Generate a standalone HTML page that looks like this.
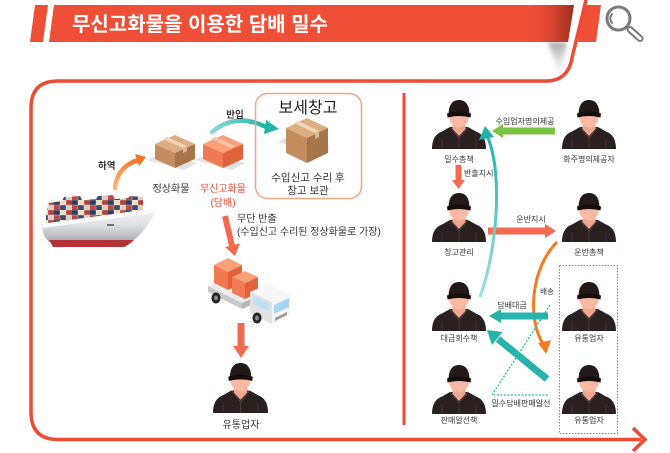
<!DOCTYPE html>
<html lang="ko">
<head>
<meta charset="utf-8">
<style>
  html,body{margin:0;padding:0;background:#fff;}
  body{width:670px;height:453px;overflow:hidden;}
  svg{display:block;}
  text{font-family:"Liberation Sans","Noto Sans CJK KR",sans-serif;fill:#333;}
</style>
</head>
<body>
<svg width="670" height="453" viewBox="0 0 670 453" xmlns="http://www.w3.org/2000/svg">
  <defs>
    <linearGradient id="barShade" x1="0" y1="0" x2="1" y2="0">
      <stop offset="0" stop-color="#ef4e37" stop-opacity="0"/>
      <stop offset="1" stop-color="#7a2216" stop-opacity="0.75"/>
    </linearGradient>
    <linearGradient id="dropShade" x1="0" y1="0" x2="0" y2="1">
      <stop offset="0" stop-color="#666" stop-opacity="0.55"/>
      <stop offset="1" stop-color="#999" stop-opacity="0"/>
    </linearGradient>
    <filter id="blur2"><feGaussianBlur stdDeviation="2"/></filter>
    <linearGradient id="hull" x1="0" y1="0" x2="0" y2="1">
      <stop offset="0" stop-color="#f4f4f6"/>
      <stop offset="0.45" stop-color="#e2e3e6"/>
      <stop offset="1" stop-color="#a9abb1"/>
    </linearGradient>
    <linearGradient id="tealG" x1="0" y1="0" x2="1" y2="0">
      <stop offset="0" stop-color="#8fd9d4"/>
      <stop offset="1" stop-color="#1fb3ab"/>
    </linearGradient>
    <linearGradient id="orangeG" x1="0" y1="1" x2="1" y2="0">
      <stop offset="0" stop-color="#fbb57a"/>
      <stop offset="1" stop-color="#f37420"/>
    </linearGradient>
    <linearGradient id="tealV" x1="0" y1="1" x2="0" y2="0">
      <stop offset="0" stop-color="#9fe0dc"/>
      <stop offset="1" stop-color="#1fb3ab"/>
    </linearGradient>
    <pattern id="cont" width="18" height="10" patternUnits="userSpaceOnUse">
      <rect x="0" y="0" width="6" height="5" fill="#2f3b5e"/>
      <rect x="6" y="0" width="6" height="5" fill="#eadcc0"/>
      <rect x="12" y="0" width="6" height="5" fill="#b3403a"/>
      <rect x="0" y="5" width="6" height="5" fill="#c0473f"/>
      <rect x="6" y="5" width="6" height="5" fill="#3b4a70"/>
      <rect x="12" y="5" width="6" height="5" fill="#d9cfc3"/>
      <path d="M0,0 H18 M0,5 H18 M6,0 V10 M12,0 V10" stroke="#fff" stroke-width="0.5" opacity="0.6"/>
    </pattern>
    <g id="p">
      <path d="M0,49 C0,40 3,34 10,31.5 L18,27 L36,27 L44,31.5 C51,34 54,40 54,49 Z" fill="#2a201f"/>
      <path d="M20.5,21 L20.5,29 L27,36 L33.5,29 L33.5,21 Z" fill="#efa78f"/>
      <ellipse cx="27" cy="16" rx="10" ry="11.5" fill="#f7b9a2"/>
      <path d="M16.5,15 C16.5,4 21,0 27,0 C33,0 37.5,4 37.5,15 Z" fill="#231a18"/>
      <path d="M15,13.5 Q27,9.5 39,13.5 L38.5,17.5 Q27,14.5 15.5,17.5 Z" fill="#130d0c"/>
      <path d="M18,27 L27,38 L36,27" fill="none" stroke="#4d403d" stroke-width="1"/>
      <line x1="27" y1="38" x2="27" y2="49" stroke="#4d403d" stroke-width="0.8"/>
      <path d="M10,39 L10,49 M44,39 L44,49" stroke="#453835" stroke-width="0.8"/>
    </g>
  </defs>

  <!-- ===== Title bar ===== -->
  <polygon points="35,5 48,5 43,42 30,42" fill="#ef4e37"/>
  <polygon points="54,5 574,5 568,42 49,42" fill="#ef4e37"/>
  <polygon points="530,5 574,5 568,42 526,42" fill="url(#barShade)"/>
  <polygon points="548,42 567,42 560,76" fill="url(#dropShade)" filter="url(#blur2)"/>
  <text x="72" y="31" font-size="20" font-weight="bold" style="fill:#fff">무신고화물을 이용한 담배 밀수</text>
  <polygon points="583,5 601,5 596,42 578,42" fill="#ef4e37"/>

  <!-- search icon -->
  <circle cx="618.5" cy="18.5" r="11.5" fill="none" stroke="#7a7a7a" stroke-width="3"/>
  <path d="M612,14 A7,7 0 0 0 612,23" fill="none" stroke="#7a7a7a" stroke-width="2" stroke-linecap="round"/>
  <line x1="630" y1="29.5" x2="640" y2="38.5" stroke="#7a7a7a" stroke-width="7" stroke-linecap="round"/>
  <line x1="630" y1="29.5" x2="640" y2="38.5" stroke="#fff" stroke-width="3" stroke-linecap="round"/>

  <!-- ===== Frame ===== -->
  <path d="M586,0 L572,58 Q568,81 546,81 L58,81 Q31,81 31,108 L31,412 Q31,439.5 58,439.5 L641,439.5"
        fill="none" stroke="#ef4a34" stroke-width="3.5"/>
  <polyline points="633,428 645,439.5 633,451" fill="none" stroke="#ef4a34" stroke-width="3.5" stroke-linejoin="miter"/>
  <line x1="404" y1="93" x2="404" y2="425" stroke="#ef4a34" stroke-width="3"/>

  <!-- ===== Left panel ===== -->
  <!-- Ship -->
  <polygon points="46,214 49,203 62,201 64,197 80,196 82,200 96,199 98,196 113,195 115,199 128,198 130,196 143,197 143,213 46,226" fill="url(#cont)"/>
  <path d="M41,224 L150,209 L156,209 Q150,226 133,241 L49,242 L44,236 Z" fill="url(#hull)"/>
  <path d="M41,224 L150,209 L156,209 L154,213 L43,228 Z" fill="#fafafa"/>
  <path d="M49,240 L134,240 Q129,245 124,247 L53,247 Z" fill="#b3323a"/>
  <rect x="107" y="224" width="7" height="2" fill="#6b6f78"/>

  <!-- 하역 arrow -->
  <path d="M115,188 Q117,167 138,160" fill="none" stroke="url(#orangeG)" stroke-width="4.5" stroke-linecap="round"/>
  <polygon points="146,157 135,154 139,166" fill="#f37420"/>
  <text x="98" y="169" font-size="9.5" font-weight="bold">하역</text>

  <!-- box shadows -->
  <polygon points="147,160 160,154 197,163 184,170" fill="#e2e2e2"/>
  <polygon points="195,160 208,154 245,163 232,170" fill="#e2e2e2"/>
  <polygon points="278,142 290,136 330,148 318,155" fill="#e2e2e2"/>

  <!-- 정상화물 box -->
  <polygon points="175,135 195,144 175,153 155,144" fill="#dcae82"/>
  <polygon points="155,144 175,153 175,168 155,159" fill="#c48d5e"/>
  <polygon points="175,153 195,144 195,159 175,168" fill="#a8754a"/>
  <polygon points="163,139 167,137 187,146 183,148" fill="#efd6b8"/>
  <polygon points="183,148 187,146 187,151 183,153" fill="#d8b896"/>
  <text x="171" y="192" font-size="10" text-anchor="middle">정상화물</text>

  <!-- 무신고화물 box -->
  <polygon points="223,135 243,144 223,153 203,144" fill="#f8a07a"/>
  <polygon points="203,144 223,153 223,168 203,159" fill="#f27a52"/>
  <polygon points="223,153 243,144 243,159 223,168" fill="#e2623c"/>
  <polygon points="211,139 215,137 235,146 231,148" fill="#fbc3a6"/>
  <text x="223" y="192" font-size="10" text-anchor="middle" style="fill:#ec4a32">무신고화물</text>
  <text x="223" y="206" font-size="10" text-anchor="middle" style="fill:#ec4a32">(담배)</text>

  <!-- 반입 arrow -->
  <path d="M212,132 Q236,112 266,127" fill="none" stroke="url(#tealG)" stroke-width="4.5" stroke-linecap="round"/>
  <polygon points="279,129 266,120 264,134" fill="#1fb3ab"/>
  <text x="235" y="118" font-size="9.5" font-weight="bold" text-anchor="middle">반입</text>

  <!-- 보세창고 -->
  <rect x="255.5" y="93.5" width="106" height="105" rx="12" ry="12" fill="none" stroke="#f5a488" stroke-width="1.5"/>
  <text x="308" y="113" font-size="16" text-anchor="middle" style="fill:#222">보세창고</text>
  <polygon points="307,118 328,128 307,138 286,128" fill="#dcae82"/>
  <polygon points="286,128 307,138 307,163 286,153" fill="#c48d5e"/>
  <polygon points="307,138 328,128 328,153 307,163" fill="#a8754a"/>
  <polygon points="294,123 298,121 319,131 315,133" fill="#efd6b8"/>
  <polygon points="315,133 319,131 319,137 315,139" fill="#d8b896"/>
  <text x="308" y="181" font-size="10.5" text-anchor="middle">수입신고 수리 후</text>
  <text x="308" y="194" font-size="10.5" text-anchor="middle">창고 보관</text>

  <!-- 무단 반출 arrow -->
  <line x1="225" y1="216" x2="232" y2="246" stroke="#f26b50" stroke-width="6"/>
  <polygon points="225,247 240,243.5 235,256" fill="#f26b50"/>
  <text x="237" y="222" font-size="10">무단 반출</text>
  <text x="237" y="235" font-size="10">(수입신고 수리된 정상화물로 가장)</text>

  <!-- Truck -->
  <polygon points="208,286 228,277 262,294 242,303" fill="#ececec"/>
  <polygon points="208,286 242,303 242,309 208,292" fill="#c9c9c9"/>
  <polygon points="242,303 262,294 262,300 242,309" fill="#b5b5b5"/>
  <polygon points="228,258 242,265 228,272 214,265" fill="#f8a07a"/>
  <polygon points="214,265 228,272 228,290 214,283" fill="#f27a52"/>
  <polygon points="228,272 242,265 242,283 228,290" fill="#e2623c"/>
  <polygon points="245,271 258,277 245,283 232,277" fill="#f8a07a"/>
  <polygon points="232,277 245,283 245,299 232,293" fill="#f27a52"/>
  <polygon points="245,283 258,277 258,293 245,299" fill="#e2623c"/>
  <polygon points="250,292 268,284 290,294 272,302" fill="#f7f7f7"/>
  <polygon points="250,292 272,302 272,324 250,314" fill="#e2e2e2"/>
  <polygon points="272,302 290,294 290,316 272,324" fill="#f5f5f5"/>
  <polygon points="274,305 289,298 289,307 274,314" fill="#a9d5f2"/>
  <polygon points="253,296 269,303 269,311 253,304" fill="#bfe0f5"/>
  <polygon points="275,318 287,312 287,315 275,321" fill="#9a9a9a"/>
  <ellipse cx="216" cy="298" rx="4.5" ry="5.5" fill="#222"/>
  <ellipse cx="257" cy="318" rx="4.5" ry="5.5" fill="#222"/>
  <ellipse cx="257" cy="318" rx="2" ry="2.5" fill="#888"/>
  <ellipse cx="216" cy="298" rx="2" ry="2.5" fill="#888"/>

  <!-- truck -> person arrow -->
  <line x1="241" y1="323" x2="241" y2="348" stroke="#f26b50" stroke-width="7"/>
  <polygon points="233,346 249,346 241,358" fill="#f26b50"/>

  <use href="#p" transform="translate(213,363) scale(1.02)"/>
  <text x="241" y="428" font-size="10" text-anchor="middle">유통업자</text>

  <!-- ===== Right panel ===== -->
  <rect x="559.5" y="265.5" width="58" height="168" fill="none" stroke="#8a8a8a" stroke-width="1" stroke-dasharray="1.5 1.5"/>

  <use href="#p" x="432" y="100"/>
  <use href="#p" x="562" y="100"/>
  <use href="#p" x="432" y="193"/>
  <use href="#p" x="562" y="193"/>
  <use href="#p" x="432" y="282"/>
  <use href="#p" x="562" y="282"/>
  <use href="#p" x="432" y="365"/>
  <use href="#p" x="562" y="365"/>

  <text x="459" y="162" font-size="8" text-anchor="middle">밀수총책</text>
  <text x="589" y="162" font-size="8" text-anchor="middle">화주명의제공자</text>
  <text x="459" y="255" font-size="8" text-anchor="middle">창고관리</text>
  <text x="589" y="255" font-size="8" text-anchor="middle">운반총책</text>
  <text x="459" y="341" font-size="8" text-anchor="middle">대금회수책</text>
  <text x="589" y="341" font-size="8" text-anchor="middle">유통업자</text>
  <text x="459" y="423" font-size="8" text-anchor="middle">판매알선책</text>
  <text x="589" y="423" font-size="8" text-anchor="middle">유통업자</text>

  <!-- green arrow -->
  <line x1="555" y1="131" x2="502" y2="131" stroke="#7bc143" stroke-width="7"/>
  <polygon points="503,124 503,138 492,131" fill="#7bc143"/>
  <text x="525" y="124" font-size="8" text-anchor="middle">수입업자명의제공</text>

  <!-- 반출지시 -->
  <line x1="458.5" y1="165" x2="458.5" y2="181" stroke="#f26b50" stroke-width="6"/>
  <polygon points="452,180 465,180 458.5,189" fill="#f26b50"/>
  <text x="464" y="176" font-size="8">반출지시</text>

  <!-- 운반지시 -->
  <line x1="488" y1="231" x2="546" y2="231" stroke="#f26b50" stroke-width="7"/>
  <polygon points="545,224 545,238 556,231" fill="#f26b50"/>
  <text x="531" y="222" font-size="8" text-anchor="middle">운반지시</text>

  <!-- teal curved (long) -->
  <path d="M480,297 C497,250 503,175 488,138" fill="none" stroke="url(#tealV)" stroke-width="3"/>
  <polygon points="485,126 479,140 494,137" fill="#1fb3ab"/>

  <!-- orange curve 배송 -->
  <path d="M557,242 C531,268 527,318 543,344" fill="none" stroke="#f47c20" stroke-width="3"/>
  <polygon points="546,354 538,343 551,340" fill="#f47c20"/>
  <text x="547" y="294" font-size="7.5" text-anchor="middle">배송</text>

  <!-- 담배대금 -->
  <line x1="548" y1="316" x2="500" y2="316" stroke="#27b3ac" stroke-width="7"/>
  <polygon points="501,309 501,323 489,316" fill="#27b3ac"/>
  <text x="512" y="308" font-size="8" text-anchor="middle">담배대금</text>

  <!-- diagonal teal -->
  <line x1="547" y1="379" x2="498" y2="339" stroke="#27b3ac" stroke-width="7"/>
  <polygon points="487,330 502.5,332 492,345" fill="#27b3ac"/>

  <!-- dotted teal -->
  <polyline points="550,305 492,395 548,395" fill="none" stroke="#2bb5ae" stroke-width="1.3" stroke-dasharray="2 1.5"/>
  <text x="521" y="406" font-size="8" text-anchor="middle">밀수담배판매알선</text>
</svg>
</body>
</html>
